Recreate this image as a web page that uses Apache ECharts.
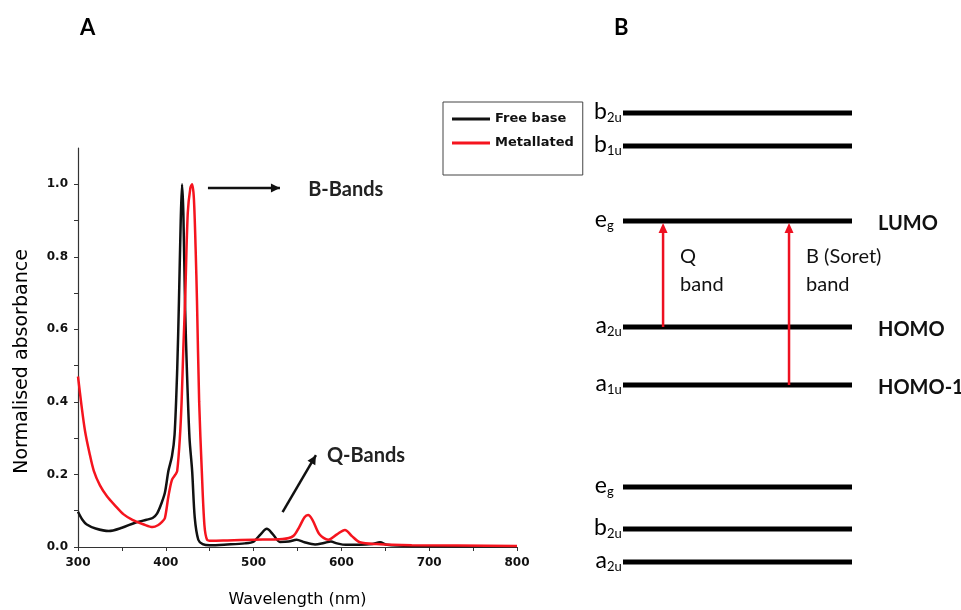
<!DOCTYPE html>
<html>
<head>
<meta charset="utf-8">
<title>Porphyrin absorbance and orbital diagram</title>
<script src="https://cdn.jsdelivr.net/npm/echarts@6/dist/echarts.min.js"></script>
<style>
  html, body { margin: 0; padding: 0; background: #fff; }
  #chart { width: 961px; height: 610px; }
</style>
</head>
<body>
<div id="chart"></div>
<script>
// --- panel A: spectra (wavelength nm, normalised absorbance) ---
var freeWl  = [300, 305, 310, 320, 335, 350, 365, 378, 385, 390, 395, 399, 403, 407, 410, 413, 415, 417, 418.5, 420, 422, 424, 427, 430, 433, 437, 442, 450, 470, 490, 500, 508, 515, 522, 530, 540, 549, 558, 570, 580, 588, 595, 605, 620, 635, 644, 652, 680, 800];
var freeAbs = [0.097, 0.075, 0.062, 0.051, 0.044, 0.053, 0.067, 0.075, 0.080, 0.092, 0.12, 0.15, 0.21, 0.25, 0.31, 0.49, 0.68, 0.90, 1.0, 0.92, 0.66, 0.49, 0.30, 0.21, 0.08, 0.02, 0.008, 0.005, 0.007, 0.01, 0.015, 0.035, 0.05, 0.035, 0.014, 0.015, 0.02, 0.013, 0.007, 0.011, 0.015, 0.01, 0.006, 0.006, 0.008, 0.013, 0.006, 0.003, 0.002];

var metWl  = [300, 304, 308, 313, 318, 325, 333, 342, 352, 362, 375, 385, 391, 396, 399, 403, 407, 411, 413, 416, 418, 420, 422, 425, 428, 430, 432, 434, 435.5, 438, 441, 444, 447, 452, 470, 500, 533, 545, 552, 558, 562, 567, 575, 585, 595, 604, 612, 621, 640, 680, 800];
var metAbs = [0.47, 0.39, 0.32, 0.26, 0.21, 0.17, 0.14, 0.115, 0.09, 0.075, 0.062, 0.055, 0.06, 0.07, 0.08, 0.14, 0.185, 0.2, 0.21, 0.30, 0.40, 0.55, 0.68, 0.92, 0.99, 1.0, 0.96, 0.82, 0.68, 0.40, 0.21, 0.06, 0.02, 0.017, 0.018, 0.02, 0.022, 0.03, 0.055, 0.082, 0.088, 0.075, 0.035, 0.02, 0.035, 0.047, 0.03, 0.013, 0.008, 0.005, 0.003];

var xTickValues  = [300, 350, 400, 450, 500, 550, 600, 650, 700, 750, 800];
var xLabelValues = [300, 400, 500, 600, 700, 800];
var yTickValues  = [0, 0.1, 0.2, 0.3, 0.4, 0.5, 0.6, 0.7, 0.8, 0.9, 1.0];
var yLabelValues = [0, 0.2, 0.4, 0.6, 0.8, 1.0];

// band annotations: arrow start, arrow end, text anchor (data coords)
var annoText  = ['B-Bands', 'Q-Bands'];
var annoFrom  = [[448, 0.99], [533, 0.096]];
var annoTo    = [[530, 0.99], [571, 0.253]];
var annoLabel = [[605, 0.985], [628, 0.253]];

// --- panel B: orbital levels (arbitrary energy units) ---
var levelSym    = ['b', 'b', 'e', 'a', 'a', 'e', 'b', 'a'];
var levelSub    = ['2u', '1u', 'g', '2u', '1u', 'g', '2u', '2u'];
var levelEnergy = [46.7, 43.4, 35.9, 25.3, 19.5, 9.3, 5.1, 1.8];
var levelRole   = ['', '', 'LUMO', 'HOMO', 'HOMO-1', '', '', ''];

// transitions between levels (x = place along the level line, 0..1)
var transText = [['Q', 'band'], ['B (Soret)', 'band']];
var transX    = [0.175, 0.725];
var transFrom = [25.3, 19.5];
var transTo   = [35.9, 35.9];

var chart = echarts.init(document.getElementById('chart'));

var tickFont = { fontFamily: 'DejaVu Sans', fontWeight: 'bold', fontSize: 12, color: '#111' };
var calFont = 'Lato';

function pairs(xs, ys) {
    var out = [];
    for (var i = 0; i < xs.length; i++) out.push([xs[i], ys[i]]);
    return out;
}

var annoData = [];
for (var i = 0; i < annoText.length; i++) {
    annoData.push([annoFrom[i][0], annoFrom[i][1], annoTo[i][0], annoTo[i][1], annoLabel[i][0], annoLabel[i][1], i]);
}

var levelData = [];
for (var i = 0; i < levelEnergy.length; i++) levelData.push([0, levelEnergy[i], i]);

var transData = [];
for (var i = 0; i < transX.length; i++) transData.push([transX[i], transFrom[i], transTo[i], i]);

function arrowHead(tip, from, len, half) {
    var dx = tip[0] - from[0], dy = tip[1] - from[1];
    var d = Math.sqrt(dx * dx + dy * dy);
    var ux = dx / d, uy = dy / d;
    var bx = tip[0] - ux * len, by = tip[1] - uy * len;
    return [[tip[0], tip[1]], [bx - uy * half, by + ux * half], [bx + uy * half, by - ux * half]];
}

var option = {
    animation: false,
    backgroundColor: '#fff',
    title: [
        { text: 'A', left: 75, top: 12, textStyle: { fontFamily: calFont, fontWeight: 'bold', fontSize: 22, color: '#000' } },
        { text: 'B', left: 609, top: 12, textStyle: { fontFamily: calFont, fontWeight: 'bold', fontSize: 22, color: '#000' } }
    ],
    legend: {
        data: ['Free base', 'Metallated'],
        orient: 'vertical',
        left: 443,
        top: 102,
        icon: 'rect',
        padding: [9, 9, 24, 9],
        itemGap: 8,
        itemWidth: 38,
        itemHeight: 3,
        borderColor: '#444',
        borderWidth: 1,
        textStyle: { fontFamily: 'DejaVu Sans', fontWeight: 'bold', fontSize: 13, color: '#111', lineHeight: 16 }
    },
    grid: [
        { left: 78, right: 444, top: 148, bottom: 63, outerBoundsMode: 'none' },
        { left: 623, width: 229, top: 80, height: 500, outerBoundsMode: 'none' }
    ],
    xAxis: [
        {
            type: 'value', gridIndex: 0, min: 300, max: 800,
            name: 'Wavelength (nm)', nameLocation: 'middle', nameGap: 45,
            nameTextStyle: { fontFamily: 'DejaVu Sans', fontSize: 16, color: '#000' },
            axisLine: { lineStyle: { color: '#333', width: 1.2 } },
            axisTick: { show: true, length: 4, customValues: xTickValues, lineStyle: { color: '#333' } },
            axisLabel: Object.assign({ customValues: xLabelValues, margin: 10 }, tickFont),
            splitLine: { show: false }
        },
        { type: 'value', gridIndex: 1, min: 0, max: 1, show: false }
    ],
    yAxis: [
        {
            type: 'value', gridIndex: 0, min: 0, max: 1.1,
            name: 'Normalised absorbance', nameLocation: 'middle', nameGap: 46,
            nameTextStyle: { fontFamily: 'DejaVu Sans', fontSize: 19, color: '#000', padding: [0, 28, 0, 0] },
            axisLine: { show: true, lineStyle: { color: '#333', width: 1.2 } },
            axisTick: { show: true, length: 4, customValues: yTickValues, lineStyle: { color: '#333' } },
            axisLabel: Object.assign({
                customValues: yLabelValues, margin: 10,
                formatter: function (v) { return v.toFixed(1); }
            }, tickFont),
            splitLine: { show: false }
        },
        { type: 'value', gridIndex: 1, min: 0, max: 50, show: false }
    ],
    series: [
        {
            name: 'Free base', type: 'line', xAxisIndex: 0, yAxisIndex: 0,
            data: pairs(freeWl, freeAbs),
            symbol: 'none', smooth: 0.3,
            lineStyle: { color: '#111', width: 2.5 },
            itemStyle: { color: '#111' }
        },
        {
            name: 'Metallated', type: 'line', xAxisIndex: 0, yAxisIndex: 0,
            data: pairs(metWl, metAbs),
            symbol: 'none', smooth: 0.3,
            lineStyle: { color: '#f5141e', width: 2.5 },
            itemStyle: { color: '#f5141e' }
        },
        {
            name: 'annotations', type: 'custom', xAxisIndex: 0, yAxisIndex: 0,
            data: annoData, z: 5,
            renderItem: function (params, api) {
                var a = api.coord([api.value(0), api.value(1)]);
                var b = api.coord([api.value(2), api.value(3)]);
                var t = api.coord([api.value(4), api.value(5)]);
                var idx = api.value(6);
                return {
                    type: 'group',
                    children: [
                        { type: 'line', shape: { x1: a[0], y1: a[1], x2: b[0], y2: b[1] }, style: { stroke: '#111', lineWidth: 2.5 } },
                        { type: 'polygon', shape: { points: arrowHead(b, a, 9, 4.5) }, style: { fill: '#111' } },
                        { type: 'text', style: { text: annoText[idx], x: t[0], y: t[1], align: 'center', verticalAlign: 'middle',
                            font: 'bold 20px ' + calFont, fill: '#222' } }
                    ]
                };
            }
        },
        {
            name: 'levels', type: 'custom', xAxisIndex: 1, yAxisIndex: 1,
            data: levelData,
            renderItem: function (params, api) {
                var e = api.value(1);
                var idx = api.value(2);
                var p0 = api.coord([0, e]);
                var p1 = api.coord([1, e]);
                var kids = [
                    { type: 'line', shape: { x1: p0[0], y1: p0[1], x2: p1[0], y2: p1[1] }, style: { stroke: '#000', lineWidth: 5 } },
                    { type: 'text', style: { text: levelSym[idx], x: p0[0] - 16, y: p0[1] - 1, align: 'right', verticalAlign: 'middle',
                        font: '23px ' + calFont, fill: '#000' } },
                    { type: 'text', style: { text: levelSub[idx], x: p0[0] - 16, y: p0[1] + 5, align: 'left', verticalAlign: 'middle',
                        font: '13px ' + calFont, fill: '#000' } }
                ];
                if (levelRole[idx]) {
                    kids.push({ type: 'text', style: { text: levelRole[idx], x: p1[0] + 26, y: p1[1] + 3, align: 'left', verticalAlign: 'middle',
                        font: 'bold 20px ' + calFont, fill: '#111' } });
                }
                return { type: 'group', children: kids };
            }
        },
        {
            name: 'transitions', type: 'custom', xAxisIndex: 1, yAxisIndex: 1,
            data: transData, z: 4,
            renderItem: function (params, api) {
                var x = api.value(0);
                var idx = api.value(3);
                var a = api.coord([x, api.value(1)]);
                var b = api.coord([x, api.value(2)]);
                var tip = [b[0], b[1] + 2];
                return {
                    type: 'group',
                    children: [
                        { type: 'line', shape: { x1: a[0], y1: a[1], x2: tip[0], y2: tip[1] + 8 }, style: { stroke: '#ee1020', lineWidth: 2.5 } },
                        { type: 'polygon', shape: { points: arrowHead(tip, a, 10, 4.5) }, style: { fill: '#ee1020' } },
                        { type: 'text', style: { text: transText[idx][0], x: b[0] + 17, y: b[1] + 36, align: 'left', verticalAlign: 'middle',
                            font: '20px ' + calFont, fill: '#111' } },
                        { type: 'text', style: { text: transText[idx][1], x: b[0] + 17, y: b[1] + 64, align: 'left', verticalAlign: 'middle',
                            font: '20px ' + calFont, fill: '#111' } }
                    ]
                };
            }
        }
    ]
};

chart.setOption(option);
window.onresize = function () {
    chart.resize();
};
</script>
</body>
</html>
